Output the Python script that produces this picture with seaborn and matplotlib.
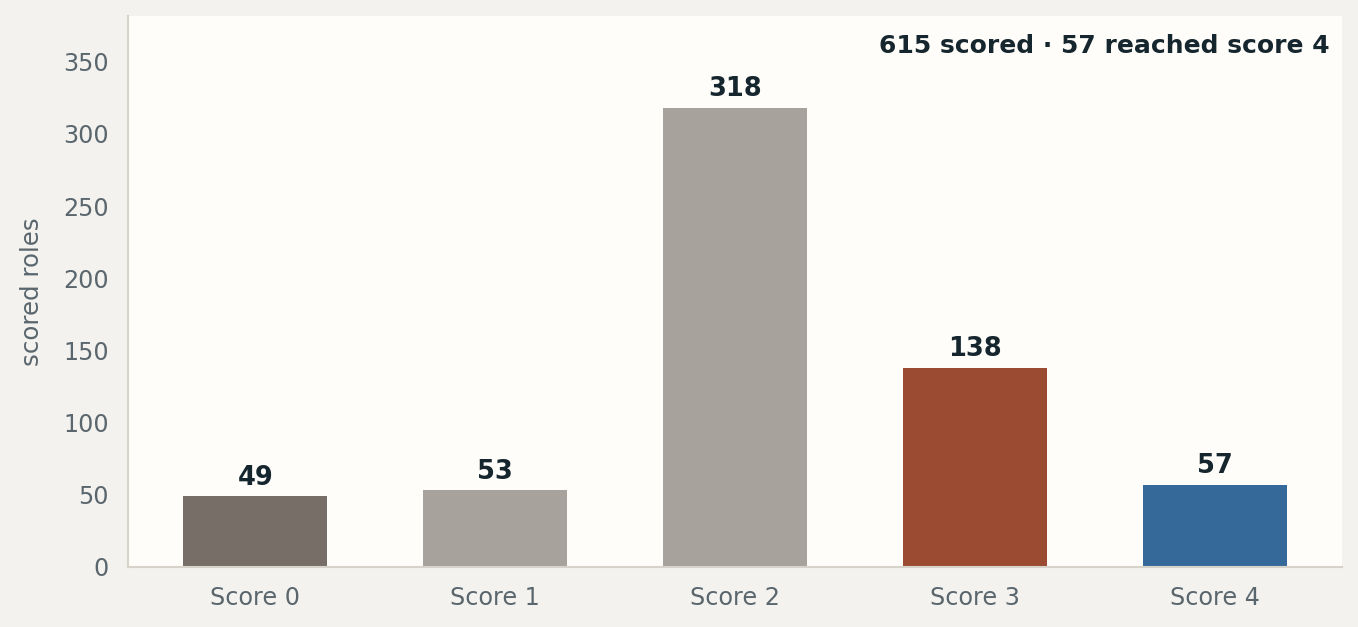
import pandas as pd
import matplotlib.pyplot as plt
import seaborn as sns

## Data ##
categories = ['Score 0', 'Score 1', 'Score 2', 'Score 3', 'Score 4']
counts = [49, 53, 318, 138, 57]
bar_colors = ['#766e67', '#a7a29b', '#a7a29b', '#9a4b32', '#356999']
note = '615 scored \u00b7 57 reached score 4'

df = pd.DataFrame({'score': categories, 'roles': counts})

## Style ##
sns.set_theme(style='white')
plt.rcParams['font.family'] = ['DejaVu Sans']

fig = plt.figure(figsize=(13.58, 6.27), dpi=100, facecolor='#f3f2ee')
ax = fig.add_axes([0.0943, 0.0957, 0.8939, 0.8788])
ax.set_facecolor('#fffdf9')

sns.barplot(data=df, x='score', y='roles', hue='score', palette=bar_colors,
            legend=False, width=0.6, saturation=1, linewidth=0, ax=ax)

for cont in ax.containers:
    ax.bar_label(cont, padding=4, fontsize=18.5, fontweight='bold', color='#16262e')

ax.set_ylim(0, max(counts) * 1.2)
ax.set_xlim(-0.53, len(categories) - 0.47)
ax.set_yticks(range(0, 351, 50))
ax.set_xlabel('')
ax.set_ylabel('scored roles', fontsize=17.6, color='#5a666e', labelpad=14)
ax.tick_params(axis='y', length=0, pad=14, labelsize=17.2, labelcolor='#5a666e')
ax.tick_params(axis='x', length=0, pad=13.5, labelsize=17.2, labelcolor='#5a666e')

sns.despine(ax=ax)
for side in ['left', 'bottom']:
    ax.spines[side].set_color('#d8d3ca')
    ax.spines[side].set_linewidth(1.5)

ax.text(0.99, 0.968, note, transform=ax.transAxes, ha='right', va='top',
        fontsize=18, fontweight='bold', color='#16262e')

plt.savefig('out.png', dpi=100, facecolor=fig.get_facecolor())
